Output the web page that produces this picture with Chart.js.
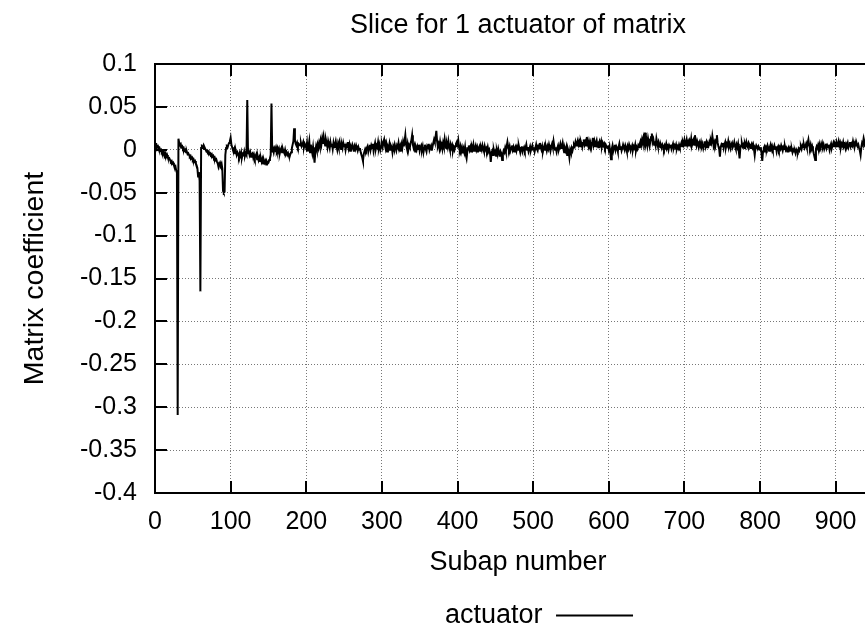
<!DOCTYPE html>
<html>
<head>
<meta charset="utf-8">
<script src="https://cdn.jsdelivr.net/npm/chart.js@4.4.1/dist/chart.umd.min.js"></script>
<style>
  html, body { margin: 0; padding: 0; background: #fff; overflow: hidden; }
  #contenitore { width: 1078px; height: 628px; }
</style>
</head>
<body>
<div id="contenitore"><canvas id="grafico" width="1078" height="628"></canvas></div>
<script>
// Titoli e etichette
var titoloGrafico = 'Slice for 1 actuator of matrix';
var etichettaX = 'Subap number';
var etichettaY = 'Matrix coefficient';
var nomeSerie = 'actuator';

// Limiti degli assi
var limitiX = [0, 960];
var passoX = 100;
var limitiY = [-0.4, 0.1];
var passoY = 0.05;

// Coefficienti, uno per sottoapertura (0, 1, 2, ...)
var coefficienti = [
  0.008, 0.005, 0.006, 0.003, 0.004, 0.001, 0.002, -0.001, 0.000, -0.003,
  -0.002, -0.005, -0.003, -0.006, -0.004, -0.008, -0.006, -0.009, -0.011, -0.010,
  -0.012, -0.014, -0.013, -0.016, -0.015, -0.018, -0.020, -0.019, -0.024, -0.027,
  -0.309, 0.013, 0.008, 0.006, 0.007, 0.003, 0.004, 0.001, 0.002, -0.001,
  0.000, -0.003, -0.002, -0.005, -0.004, -0.006, -0.008, -0.007, -0.010, -0.009,
  -0.012, -0.011, -0.014, -0.013, -0.016, -0.018, -0.021, -0.031, -0.026, -0.036,
  -0.165, 0.002, 0.004, 0.003, 0.005, 0.001, 0.002, 0.000, -0.002, -0.001,
  -0.003, -0.002, -0.005, -0.004, -0.006, -0.005, -0.008, -0.007, -0.010, -0.009,
  -0.012, -0.011, -0.014, -0.016, -0.020, -0.017, -0.015, -0.018, -0.016, -0.022,
  -0.048, -0.050, -0.049, -0.006, 0.002, 0.004, 0.003, 0.006, 0.008, 0.010,
  0.014, 0.006, 0.003, 0.000, -0.002, 0.001, -0.004, -0.002, -0.006, -0.003,
  -0.005, -0.008, -0.004, -0.007, -0.003, -0.009, -0.005, -0.006, -0.002, -0.007,
  -0.004, -0.006, 0.058, -0.004, -0.002, -0.006, -0.003, -0.008, -0.005, -0.004,
  -0.009, -0.006, -0.010, -0.007, -0.005, -0.011, -0.008, -0.012, -0.009, -0.013,
  -0.010, -0.014, -0.011, -0.016, -0.012, -0.015, -0.013, -0.017, -0.014, -0.016,
  -0.015, -0.012, -0.010, -0.006, 0.054, -0.002, 0.001, -0.003, 0.002, 0.000,
  0.003, -0.001, 0.002, -0.002, 0.001, -0.004, 0.000, 0.002, -0.003, 0.001,
  -0.002, -0.004, 0.000, -0.005, -0.003, -0.006, -0.004, -0.007, -0.008, -0.005,
  -0.003, 0.002, 0.006, 0.010, 0.025, 0.012, 0.007, 0.005, 0.008, 0.004,
  0.007, 0.006, 0.005, 0.008, 0.004, 0.006, 0.009, 0.003, 0.007, 0.005,
  0.002, 0.008, -0.002, 0.004, 0.010, -0.003, 0.006, 0.001, -0.004, 0.003,
  -0.006, -0.015, -0.002, 0.004, 0.000, 0.006, 0.002, 0.008, 0.004, 0.011,
  0.006, 0.013, 0.007, 0.015, 0.009, 0.005, 0.012, 0.008, 0.003, 0.010,
  0.006, 0.002, 0.009, 0.004, 0.007, 0.001, 0.008, 0.003, 0.006, 0.010,
  0.004, 0.000, 0.007, 0.003, 0.009, 0.005, 0.001, 0.006, 0.002, 0.008,
  0.004, 0.007, 0.000, 0.005, 0.003, 0.009, 0.002, 0.006, -0.001, 0.004,
  0.002, 0.006, 0.003, -0.002, 0.004, 0.001, 0.005, 0.002, -0.001, 0.003,
  0.000, 0.002, -0.003, -0.006, -0.009, -0.013, -0.005, -0.002, 0.001, -0.001,
  0.002, 0.004, -0.002, 0.003, 0.006, 0.000, 0.005, 0.002, 0.007, -0.001,
  0.004, 0.008, 0.001, 0.005, 0.003, 0.009, 0.002, 0.006, 0.000, 0.004,
  0.007, 0.003, 0.009, 0.012, 0.005, 0.001, 0.006, -0.002, 0.004, 0.002,
  0.007, 0.000, 0.005, 0.003, -0.003, 0.004, 0.001, 0.006, 0.002, -0.001,
  0.005, 0.003, 0.008, 0.001, 0.004, -0.002, 0.006, 0.002, 0.009, 0.004,
  0.010, 0.017, 0.006, 0.002, 0.007, 0.000, 0.005, 0.003, 0.008, 0.011,
  0.017, 0.006, 0.002, 0.005, -0.002, 0.003, 0.000, 0.004, 0.001, 0.006,
  -0.001, 0.003, 0.005, 0.000, 0.004, -0.003, 0.002, 0.006, 0.001, -0.002,
  0.004, 0.002, 0.007, 0.000, 0.003, 0.005, -0.001, 0.004, 0.008, 0.012,
  0.009, 0.015, 0.022, 0.010, 0.004, 0.007, 0.002, 0.009, 0.003, 0.006,
  0.001, 0.008, 0.004, 0.012, 0.005, 0.002, 0.007, 0.003, 0.010, 0.004,
  0.000, 0.006, 0.002, 0.005, -0.001, 0.003, 0.000, 0.004, 0.007, 0.009,
  0.006, 0.011, 0.003, 0.000, 0.004, -0.002, 0.002, -0.004, 0.001, -0.003,
  0.003, -0.006, -0.010, -0.002, 0.002, 0.005, 0.000, 0.003, -0.002, 0.004,
  0.001, 0.006, -0.001, 0.002, 0.005, 0.000, 0.003, -0.003, 0.002, 0.004,
  -0.001, 0.003, 0.000, 0.005, 0.001, -0.002, 0.004, 0.000, 0.002, -0.001,
  0.003, -0.002, 0.000, -0.004, -0.014, -0.003, -0.001, -0.006, 0.000, -0.004,
  -0.002, -0.007, -0.001, -0.005, 0.001, -0.003, -0.008, -0.002, -0.004, -0.012,
  -0.005, -0.001, -0.003, 0.002, -0.002, 0.004, 0.009, 0.003, 0.000, 0.004,
  -0.001, 0.002, 0.005, 0.000, 0.003, -0.002, 0.002, 0.004, -0.001, 0.003,
  0.000, 0.005, 0.001, -0.003, 0.002, 0.004, -0.002, 0.001, 0.003, -0.001,
  0.002, 0.006, 0.000, 0.003, -0.002, 0.001, 0.004, -0.001, 0.002, 0.005,
  0.000, 0.003, -0.002, 0.002, 0.006, 0.001, -0.001, 0.004, 0.002, 0.008,
  0.003, 0.000, 0.004, -0.002, 0.002, 0.005, 0.000, 0.003, -0.001, 0.004,
  0.001, 0.006, 0.002, -0.001, 0.004, 0.007, 0.003, 0.010, 0.004, 0.000,
  0.003, -0.002, 0.002, 0.005, 0.000, 0.003, 0.007, 0.002, 0.004, 0.008,
  0.001, -0.003, 0.002, -0.001, 0.003, -0.006, 0.001, -0.002, -0.009, 0.000,
  -0.003, 0.002, -0.001, 0.003, 0.006, 0.004, 0.009, 0.005, 0.008, 0.011,
  0.006, 0.009, 0.004, 0.010, 0.007, 0.003, 0.008, 0.012, 0.006, 0.009,
  0.005, 0.015, 0.007, 0.004, 0.010, 0.006, 0.009, 0.003, 0.008, 0.014,
  0.006, 0.010, 0.004, 0.008, 0.011, 0.005, 0.007, 0.002, 0.009, 0.006,
  0.010, 0.004, 0.008, 0.005, 0.007, 0.003, 0.006, 0.004, 0.002, 0.005,
  0.000, 0.004, -0.003, -0.011, 0.001, 0.005, -0.001, 0.003, 0.006, 0.000,
  0.004, 0.002, -0.002, 0.003, 0.007, 0.001, 0.004, -0.001, 0.002, 0.006,
  0.003, 0.000, 0.005, 0.002, -0.002, 0.004, 0.001, 0.006, 0.003, -0.001,
  0.002, 0.005, 0.000, 0.004, 0.002, 0.006, -0.001, 0.003, 0.001, 0.005,
  0.003, 0.007, 0.010, 0.006, 0.012, 0.008, 0.014, 0.009, 0.020, 0.007,
  0.011, 0.005, 0.013, 0.008, 0.004, 0.010, 0.015, 0.019, 0.009, 0.012,
  0.006, 0.010, 0.005, 0.013, 0.008, 0.004, 0.009, 0.006, 0.003, 0.005,
  0.002, 0.006, 0.004, 0.001, 0.005, 0.003, 0.007, 0.002, 0.004, 0.000,
  0.005, 0.003, 0.006, 0.001, 0.004, 0.007, 0.002, 0.005, 0.003, 0.006,
  0.001, 0.004, 0.002, 0.006, 0.003, 0.005, 0.008, 0.004, 0.009, 0.006,
  0.011, 0.005, 0.008, 0.012, 0.006, 0.009, 0.004, 0.010, 0.007, 0.013,
  0.005, 0.008, 0.011, 0.006, 0.017, 0.009, 0.005, 0.010, 0.007, 0.003,
  0.008, 0.005, 0.009, 0.004, 0.007, 0.002, 0.006, 0.010, 0.004, 0.008,
  0.003, 0.007, 0.005, 0.009, 0.006, 0.011, 0.008, 0.016, 0.010, 0.006,
  0.009, 0.005, 0.012, 0.017, 0.008, 0.004, 0.001, -0.008, 0.003, 0.006,
  0.004, 0.008, 0.002, 0.006, 0.009, 0.003, 0.007, 0.005, 0.010, 0.004,
  0.007, 0.002, 0.006, 0.008, 0.003, 0.005, 0.009, 0.004, 0.001, 0.006,
  0.003, 0.007, -0.002, -0.010, 0.002, 0.005, 0.008, 0.004, 0.006, 0.002,
  0.007, 0.004, 0.009, 0.005, 0.003, 0.008, 0.006, 0.002, 0.005, 0.007,
  0.003, 0.006, 0.001, -0.006, 0.002, 0.005, 0.003, 0.001, 0.004, 0.002,
  0.000, 0.003, -0.004, -0.013, -0.002, 0.002, 0.004, 0.000, 0.003, 0.001,
  0.005, 0.002, -0.001, 0.003, 0.006, 0.001, 0.004, 0.000, 0.002, 0.005,
  0.001, 0.004, -0.002, 0.002, 0.004, 0.000, 0.003, 0.001, 0.005, 0.002,
  -0.001, 0.003, 0.001, 0.004, 0.000, 0.002, -0.002, 0.001, 0.003, 0.000,
  0.002, -0.001, 0.001, -0.003, 0.000, -0.002, -0.001, -0.004, 0.000, -0.002,
  -0.003, 0.001, -0.001, 0.002, 0.004, 0.001, 0.005, 0.003, 0.006, 0.002,
  0.004, 0.007, 0.003, 0.008, 0.012, 0.005, 0.002, 0.006, 0.001, 0.004,
  0.000, -0.004, -0.007, -0.012, 0.001, 0.004, 0.002, 0.006, 0.003, 0.007,
  0.002, 0.005, 0.008, 0.003, 0.006, 0.001, 0.004, 0.007, 0.002, 0.005,
  0.003, 0.006, 0.000, 0.004, 0.007, 0.002, 0.005, 0.008, 0.004, 0.007,
  0.005, 0.009, 0.004, 0.006, 0.010, 0.005, 0.008, 0.003, 0.007, 0.005,
  0.009, 0.004, 0.006, 0.002, 0.007, 0.005, 0.008, 0.003, 0.006, 0.009,
  0.004, 0.007, 0.005, 0.010, 0.006, 0.003, 0.008, 0.005, 0.007, 0.004,
  0.006, 0.002, -0.001, -0.006, 0.003, 0.008, 0.006, 0.013, 0.009, 0.004,
  0.007, 0.003, 0.006, 0.002, 0.005
];

// Tacche interne e bordo del riquadro, come in gnuplot
var pluginTacche = {
    id: 'tacche',
    afterDatasetsDraw: function(chart) {
        var ctx = chart.ctx;
        var area = chart.chartArea;
        var sx = chart.scales.x;
        var sy = chart.scales.y;
        ctx.save();
        ctx.strokeStyle = '#000';
        ctx.lineWidth = 2;
        ctx.strokeRect(area.left, area.top, area.right - area.left, area.bottom - area.top);
        ctx.beginPath();
        sx.ticks.forEach(function(t) {
            var px = Math.round(sx.getPixelForValue(t.value));
            ctx.moveTo(px, area.bottom);
            ctx.lineTo(px, area.bottom - 12);
            ctx.moveTo(px, area.top);
            ctx.lineTo(px, area.top + 12);
        });
        sy.ticks.forEach(function(t) {
            var py = Math.round(sy.getPixelForValue(t.value));
            ctx.moveTo(area.left, py);
            ctx.lineTo(area.left + 12, py);
            ctx.moveTo(area.right, py);
            ctx.lineTo(area.right - 12, py);
        });
        ctx.stroke();
        ctx.restore();
    }
};

function creaGrafico() {
    var punti = coefficienti.map(function(v, i) {
        return { x: i, y: v };
    });

    Chart.defaults.font.family = "'Liberation Sans', Arial, sans-serif";
    Chart.defaults.color = '#000';

    var ctx = document.getElementById('grafico').getContext('2d');
    var grafico = new Chart(ctx, {
        type: 'line',
        data: {
            datasets: [{
                label: nomeSerie,
                data: punti,
                borderColor: '#000',
                backgroundColor: '#000',
                borderWidth: 2,
                pointRadius: 0,
                pointStyle: 'line',
                tension: 0,
                fill: false
            }]
        },
        options: {
            responsive: false,
            animation: false,
            devicePixelRatio: 1,
            layout: { padding: 0 },
            plugins: {
                title: {
                    display: true,
                    text: titoloGrafico,
                    fullSize: false,
                    font: { size: 27, weight: 'normal' },
                    padding: { top: 9, bottom: 22.6 }
                },
                legend: {
                    display: true,
                    position: 'bottom',
                    fullSize: true,
                    rtl: true,
                    maxHeight: 26,
                    labels: {
                        usePointStyle: true,
                        pointStyleWidth: 77,
                        padding: 0,
                        font: { size: 27 }
                    }
                },
                tooltip: { enabled: false }
            },
            scales: {
                x: {
                    type: 'linear',
                    min: limitiX[0],
                    max: limitiX[1],
                    afterFit: function(s) { s.height = 109; },
                    ticks: {
                        stepSize: passoX,
                        includeBounds: false,
                        padding: 14,
                        maxRotation: 0,
                        font: { size: 25 }
                    },
                    grid: {
                        color: '#777',
                        lineWidth: 1,
                        drawTicks: false
                    },
                    border: { display: false, dash: [1, 2] },
                    title: {
                        display: true,
                        text: etichettaX,
                        font: { size: 27 },
                        padding: { top: 0, bottom: 22.8 }
                    }
                },
                y: {
                    type: 'linear',
                    min: limitiY[0],
                    max: limitiY[1],
                    afterFit: function(s) { s.width = 155; },
                    ticks: {
                        stepSize: passoY,
                        padding: 18,
                        font: { size: 25 },
                        callback: function(v) { return Number(v.toFixed(2)).toString(); }
                    },
                    grid: {
                        color: '#777',
                        lineWidth: 1,
                        drawTicks: false
                    },
                    border: { display: false, dash: [1, 2] },
                    title: {
                        display: true,
                        text: etichettaY,
                        font: { size: 28.5 },
                        padding: { top: 18, bottom: 0 }
                    }
                },
                // asse vuoto a destra: lascia lo spazio della parte tagliata
                destra: {
                    type: 'linear',
                    position: 'right',
                    afterFit: function(s) { s.width = 197; },
                    ticks: { display: false },
                    grid: { display: false },
                    border: { display: false }
                }
            }
        },
        plugins: [pluginTacche]
    });
}

creaGrafico();
</script>
</body>
</html>
